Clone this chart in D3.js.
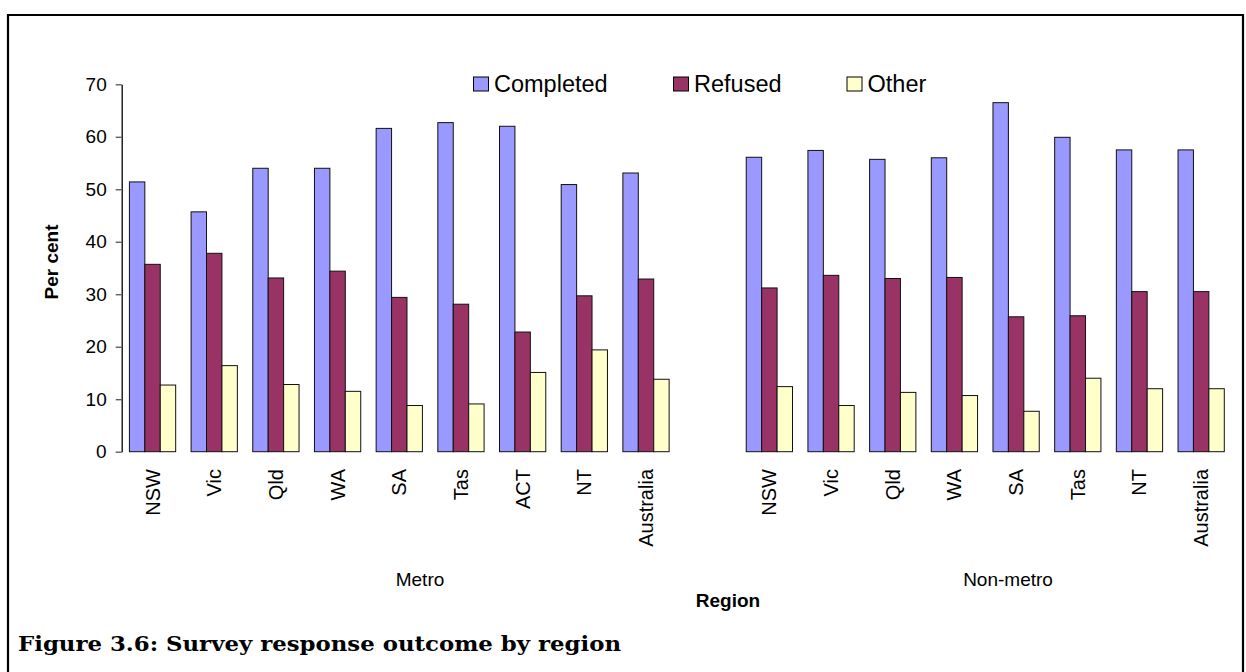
<!DOCTYPE html>
<html>
<head>
<meta charset="utf-8">
<script src="https://cdn.jsdelivr.net/npm/d3@7"></script>
<style>
html,body{margin:0;padding:0;background:#fff;}
svg{display:block;}
</style>
</head>
<body>
<svg id="chart" width="1246" height="672"></svg>
<script>
// ---- data ----
const groups = ["Metro", "Non-metro"];
const metroStates = ["NSW", "Vic", "Qld", "WA", "SA", "Tas", "ACT", "NT", "Australia"];
const nonMetroStates = ["NSW", "Vic", "Qld", "WA", "SA", "Tas", "NT", "Australia"];
const seriesNames = ["Completed", "Refused", "Other"];
const seriesColors = ["#9999FF", "#993366", "#FFFFCC"];
const metroCompleted = [51.4, 45.7, 54.0, 54.0, 61.6, 62.7, 62.0, 50.9, 53.1];
const metroRefused   = [35.7, 37.8, 33.1, 34.4, 29.4, 28.1, 22.8, 29.7, 32.9];
const metroOther     = [12.7, 16.4, 12.8, 11.5, 8.8, 9.1, 15.1, 19.4, 13.8];
const nonMetroCompleted = [56.1, 57.4, 55.7, 56.0, 66.5, 59.9, 57.5, 57.5];
const nonMetroRefused   = [31.2, 33.6, 33.0, 33.2, 25.7, 25.9, 30.5, 30.5];
const nonMetroOther     = [12.4, 8.8, 11.3, 10.7, 7.7, 14.0, 12.0, 12.0];
const yTicks = [0, 10, 20, 30, 40, 50, 60, 70];
const yTitle = "Per cent";
const xTitle = "Region";
const caption = "Figure 3.6: Survey response outcome by region";

const SANS = '"Liberation Sans", Arial, sans-serif';
const SERIF = '"DejaVu Serif", "Liberation Serif", serif';

// ---- build rows ----
const rows = [];
metroStates.forEach((s, i) => rows.push({key: "M" + i, label: s, group: "Metro",
  values: [metroCompleted[i], metroRefused[i], metroOther[i]]}));
rows.push({key: "gap", label: "", group: null, values: null});
nonMetroStates.forEach((s, i) => rows.push({key: "N" + i, label: s, group: "Non-metro",
  values: [nonMetroCompleted[i], nonMetroRefused[i], nonMetroOther[i]]}));

const svg = d3.select("#chart").style("font-family", SANS);
svg.append("rect").attr("width", 1246).attr("height", 672).attr("fill", "#fff");

// frame
svg.append("path").attr("d", "M8,672V15H1243V672")
  .attr("fill", "none").attr("stroke", "#000").attr("stroke-width", 2.2);

const x0 = d3.scaleBand().domain(rows.map(r => r.key)).range([121.7, 1232])
  .paddingInner(0.25).paddingOuter(0.125);
const x1 = d3.scaleBand().domain(seriesNames).range([0, x0.bandwidth()]);
const y = d3.scaleLinear().domain([0, 70]).range([451.7, 84.3]);
const color = d3.scaleOrdinal().domain(seriesNames).range(seriesColors);

// y axis
const yAxis = svg.append("g").attr("transform", "translate(121.7,0)")
  .call(d3.axisLeft(y).tickValues(yTicks).tickSize(6).tickSizeOuter(0).tickPadding(9));
yAxis.select(".domain").attr("stroke", "#000").attr("stroke-width", 1.3);
yAxis.selectAll(".tick line").attr("stroke", "#555").attr("stroke-width", 1.3);
yAxis.selectAll(".tick text").attr("font-size", 19).style("font-family", SANS).attr("fill", "#000");

// bars
const data = rows.filter(r => r.values);
const g = svg.append("g");
data.forEach(r => {
  seriesNames.forEach((s, j) => {
    g.append("rect")
      .attr("x", x0(r.key) + x1(s))
      .attr("y", y(r.values[j]))
      .attr("width", x1.bandwidth())
      .attr("height", y(0) - y(r.values[j]))
      .attr("fill", color(s))
      .attr("stroke", "#111")
      .attr("stroke-width", 1);
  });
});

// x labels
data.forEach(r => {
  const cx = x0(r.key) + x0.bandwidth() / 2;
  svg.append("text")
    .attr("transform", `translate(${cx},469) rotate(-90)`)
    .attr("text-anchor", "end").attr("dy", "0.35em")
    .attr("font-size", 20).text(r.label);
});

// group labels
const groupPos = {"Metro": 420, "Non-metro": 1008};
groups.forEach(gname => {
  svg.append("text").attr("x", groupPos[gname]).attr("y", 586)
    .attr("text-anchor", "middle").attr("font-size", 19).text(gname);
});

// axis titles
svg.append("text").attr("x", 728).attr("y", 607).attr("text-anchor", "middle")
  .attr("font-size", 19).attr("font-weight", "bold").text(xTitle);
svg.append("text").attr("transform", "translate(58,262) rotate(-90)")
  .attr("text-anchor", "middle").attr("font-size", 19).attr("font-weight", "bold").text(yTitle);

// legend
const legendX = [473.5, 673.5, 847];
seriesNames.forEach((s, i) => {
  svg.append("rect").attr("x", legendX[i]).attr("y", 77).attr("width", 15).attr("height", 14)
    .attr("fill", color(s)).attr("stroke", "#000").attr("stroke-width", 1);
  svg.append("text").attr("x", legendX[i] + 20.5).attr("y", 92)
    .attr("font-size", 23.5).text(s);
});

// caption
svg.append("text").attr("x", 18).attr("y", 651)
  .style("font-family", SERIF)
  .attr("font-weight", "bold").attr("font-size", 21)
  .attr("textLength", 603).attr("lengthAdjust", "spacingAndGlyphs").text(caption);
</script>
</body>
</html>
